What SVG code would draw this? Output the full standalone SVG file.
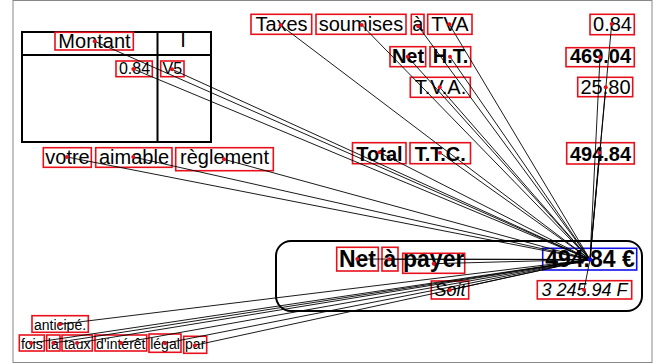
<svg xmlns="http://www.w3.org/2000/svg" width="667" height="364" viewBox="0 0 667 364">
<style>
text{font-family:"Liberation Sans",Arial,sans-serif;fill:#000;text-anchor:middle}
.b{font-weight:bold}
.i{font-style:italic}
.f20{font-size:20px}
.f16{font-size:16px}
.f23{font-size:23px}
.f18{font-size:18px}
.f14{font-size:14px}
.box{fill:none;stroke:#e8101a;stroke-width:1.6}
.bbox{fill:none;stroke:#1010e8;stroke-width:1.6}
.dot{fill:#e8101a}
.bdot{fill:#1010e8}
#connectors line{stroke:#000;stroke-width:0.9}
.frame{fill:none;stroke:#000;stroke-width:2}
</style>
<rect width="667" height="364" fill="#fff"/>
<rect x="13" y="0.5" width="639" height="362" fill="none" stroke="#888" stroke-width="1"/>
<g id="table">
<rect class="frame" x="22" y="32" width="189" height="110"/>
<line class="frame" x1="22" y1="55" x2="211" y2="55"/>
<line class="frame" x1="157.5" y1="32" x2="157.5" y2="142"/>
<text class="f20" x="183" y="47">I</text>
</g>
<rect class="frame" x="276" y="241" width="366" height="70" rx="15"/>

<g id="n-montant"><text class="f20" x="94.5" y="47.5">Montant</text><rect class="box" x="55" y="32.3" width="78.3" height="17.7"/></g>
<g id="n-084a"><text class="f16" x="134.5" y="74">0.84</text><rect class="box" x="116" y="61" width="36.3" height="15.7"/></g>
<g id="n-v5"><text class="f16" x="172.3" y="74">V5</text><rect class="box" x="160.7" y="61" width="23.3" height="15.7"/></g>
<g id="n-votre"><text class="f20" x="67.5" y="164">votre</text><rect class="box" x="43.3" y="147.7" width="48" height="19.6"/></g>
<g id="n-aimable"><text class="f20" x="134" y="164">aimable</text><rect class="box" x="95.7" y="147.7" width="76.3" height="19.6"/></g>
<g id="n-reglement"><text class="f20" x="224.5" y="164">règlement</text><rect class="box" x="175.7" y="147.7" width="97.6" height="23"/></g>

<g id="n-taxes"><text class="f20" x="281.5" y="30.7">Taxes</text><rect class="box" x="251" y="14.3" width="60.7" height="20"/></g>
<g id="n-soumises"><text class="f20" x="361" y="30.7">soumises</text><rect class="box" x="316" y="14.3" width="90" height="20"/></g>
<g id="n-a1"><text class="f20" x="417.7" y="30.7">à</text><rect class="box" x="411.3" y="14.3" width="12.7" height="20"/></g>
<g id="n-tva"><text class="f20" x="450" y="30.7">TVA</text><rect class="box" x="427.7" y="14.3" width="44.3" height="20"/></g>
<g id="n-net1"><text class="f20 b" x="408" y="63">Net</text><rect class="box" x="390" y="46.7" width="35.7" height="20"/></g>
<g id="n-ht"><text class="f20 b" x="450.5" y="63">H.T.</text><rect class="box" x="430" y="46.7" width="40.7" height="20"/></g>
<g id="n-tva2"><text class="f20" x="440.5" y="94">T.V.A.</text><rect class="box" x="410.3" y="77.3" width="60" height="20"/></g>
<g id="n-total"><text class="f20 b" x="379.5" y="160.5">Total</text><rect class="box" x="352.5" y="142.7" width="53.5" height="21"/></g>
<g id="n-ttc"><text class="f20 b" x="440.3" y="160.5">T.T.C.</text><rect class="box" x="410" y="142.7" width="60.5" height="21"/></g>

<g id="n-084b"><text class="f20" x="612.5" y="31">0.84</text><rect class="box" x="590" y="14.3" width="44.3" height="20.4"/></g>
<g id="n-46904"><text class="f20 b" x="600.5" y="63">469.04</text><rect class="box" x="566" y="47.7" width="68.3" height="19"/></g>
<g id="n-2580"><text class="f20" x="605.5" y="94">25.80</text><rect class="box" x="577.7" y="77.3" width="55" height="19.4"/></g>
<g id="n-49484"><text class="f20 b" x="600.5" y="160.5">494.84</text><rect class="box" x="566.7" y="142.7" width="67.6" height="21.3"/></g>

<g id="n-net2"><text class="f23 b" x="357.5" y="267">Net</text><rect class="box" x="336.7" y="247.3" width="41.6" height="23.7"/></g>
<g id="n-a2"><text class="f23 b" x="390" y="267">à</text><rect class="box" x="382" y="247.3" width="16" height="23.7"/></g>
<g id="n-payer"><text class="f23 b" x="433.7" y="267">payer</text><rect class="box" x="402.7" y="253.3" width="62" height="20"/></g>
<g id="n-soit"><text class="f18 i" x="450" y="296">Soit</text><rect class="box" x="431.3" y="281" width="37.4" height="18"/></g>
<g id="n-total-eur"><text class="f23 b" x="590" y="267">494.84 €</text><rect class="bbox" x="542.7" y="248.3" width="94" height="21.7"/></g>
<g id="n-francs"><text class="f18 i" x="584.5" y="296">3 245.94 F</text><rect class="box" x="537.3" y="280.7" width="94.4" height="18.3"/></g>

<g id="n-anticipe"><text class="f14" x="60" y="329.5">anticipé.</text><rect class="box" x="32" y="315.7" width="56.3" height="16.6"/></g>
<g id="n-fois"><text class="f14" x="31.8" y="348.5">fois</text><rect class="box" x="19.3" y="335" width="25" height="16"/></g>
<g id="n-la"><text class="f14" x="53.3" y="348.5">la</text><rect class="box" x="46.7" y="335" width="13.3" height="16"/></g>
<g id="n-taux"><text class="f14" x="77.2" y="348.5">taux</text><rect class="box" x="62" y="335" width="30.3" height="16"/></g>
<g id="n-interet"><text class="f14" x="120.8" y="348.5">d'intérêt</text><rect class="box" x="95" y="335" width="51.7" height="16"/></g>
<g id="n-legal"><text class="f14" x="165" y="348.5">légal</text><rect class="box" x="149" y="334" width="32" height="18.3"/></g>
<g id="n-par"><text class="f14" x="195.2" y="348.5">par</text><rect class="box" x="183.7" y="336.3" width="23" height="17"/></g>

<g id="connectors">
<line x1="94.7" y1="41.3" x2="590" y2="259.5"/>
<line x1="133.3" y1="69" x2="590" y2="259.5"/>
<line x1="172" y1="69.3" x2="590" y2="259.5"/>
<line x1="67" y1="157" x2="590" y2="259.5"/>
<line x1="133.3" y1="157" x2="590" y2="259.5"/>
<line x1="224" y1="159.3" x2="590" y2="259.5"/>
<line x1="280.7" y1="25.3" x2="590" y2="259.5"/>
<line x1="361.7" y1="25" x2="590" y2="259.5"/>
<line x1="418.3" y1="26.3" x2="590" y2="259.5"/>
<line x1="449.3" y1="24.3" x2="590" y2="259.5"/>
<line x1="407.7" y1="56.7" x2="590" y2="259.5"/>
<line x1="450" y1="56.7" x2="590" y2="259.5"/>
<line x1="439.7" y1="87.3" x2="590" y2="259.5"/>
<line x1="379.3" y1="152.3" x2="590" y2="259.5"/>
<line x1="440" y1="152.7" x2="590" y2="259.5"/>
<line x1="611.7" y1="24" x2="590" y2="259.5"/>
<line x1="600" y1="57.3" x2="590" y2="259.5"/>
<line x1="605.7" y1="87.3" x2="590" y2="259.5"/>
<line x1="599.3" y1="152.7" x2="590" y2="259.5"/>
<line x1="357.3" y1="259" x2="590" y2="259.5"/>
<line x1="389.3" y1="259.3" x2="590" y2="259.5"/>
<line x1="433.7" y1="263.7" x2="590" y2="259.5"/>
<line x1="450" y1="290" x2="590" y2="259.5"/>
<line x1="584" y1="289.7" x2="590" y2="259.5"/>
<line x1="60" y1="324.3" x2="590" y2="259.5"/>
<line x1="31" y1="343" x2="590" y2="259.5"/>
<line x1="53.3" y1="343" x2="590" y2="259.5"/>
<line x1="77" y1="343" x2="590" y2="259.5"/>
<line x1="121" y1="343" x2="590" y2="259.5"/>
<line x1="165" y1="343.3" x2="590" y2="259.5"/>
<line x1="195" y1="345.3" x2="590" y2="259.5"/>
</g>
<g id="dots">
<circle class="dot" cx="94.7" cy="41.3" r="2"/>
<circle class="dot" cx="133.3" cy="69" r="2"/>
<circle class="dot" cx="172" cy="69.3" r="2"/>
<circle class="dot" cx="67" cy="157" r="2"/>
<circle class="dot" cx="133.3" cy="157" r="2"/>
<circle class="dot" cx="224" cy="159.3" r="2"/>
<circle class="dot" cx="280.7" cy="25.3" r="2"/>
<circle class="dot" cx="361.7" cy="25" r="2"/>
<circle class="dot" cx="418.3" cy="26.3" r="2"/>
<circle class="dot" cx="449.3" cy="24.3" r="2"/>
<circle class="dot" cx="407.7" cy="56.7" r="2"/>
<circle class="dot" cx="450" cy="56.7" r="2"/>
<circle class="dot" cx="439.7" cy="87.3" r="2"/>
<circle class="dot" cx="379.3" cy="152.3" r="2"/>
<circle class="dot" cx="440" cy="152.7" r="2"/>
<circle class="dot" cx="611.7" cy="24" r="2"/>
<circle class="dot" cx="600" cy="57.3" r="2"/>
<circle class="dot" cx="605.7" cy="87.3" r="2"/>
<circle class="dot" cx="599.3" cy="152.7" r="2"/>
<circle class="dot" cx="357.3" cy="259" r="2"/>
<circle class="dot" cx="389.3" cy="259.3" r="2"/>
<circle class="dot" cx="433.7" cy="263.7" r="2"/>
<circle class="dot" cx="450" cy="290" r="2"/>
<circle class="dot" cx="584" cy="289.7" r="2"/>
<circle class="dot" cx="60" cy="324.3" r="2"/>
<circle class="dot" cx="31" cy="343" r="2"/>
<circle class="dot" cx="53.3" cy="343" r="2"/>
<circle class="dot" cx="77" cy="343" r="2"/>
<circle class="dot" cx="121" cy="343" r="2"/>
<circle class="dot" cx="165" cy="343.3" r="2"/>
<circle class="dot" cx="195" cy="345.3" r="2"/>
<circle class="bdot" cx="590" cy="259.5" r="2.2"/>
</g>
</svg>
